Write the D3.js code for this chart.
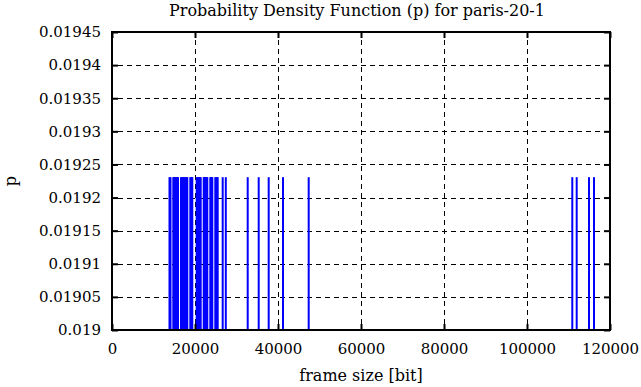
<!DOCTYPE html>
<html>
<head>
<meta charset="utf-8">
<script src="https://cdn.jsdelivr.net/npm/d3@7"></script>
<style>
  html, body { margin: 0; padding: 0; background: #fff; }
  svg { display: block; }
  text { font-family: "DejaVu Serif", "Liberation Serif", serif; fill: #000; }
</style>
</head>
<body>
<svg id="chart" width="641" height="387"></svg>
<script>
// ---- data ----
const title = "Probability Density Function (p) for paris-20-1";
const xLabel = "frame size [bit]";
const yLabel = "p";
const frameSizes = [
  13855, 14096,
  14771, 14964, 15156, 15349, 15518, 15711, 15903,
  16626, 16843, 17060, 17277, 17494, 17711, 17927, 18144,
  18867, 19036, 19180, 19349,
  20409, 20602, 20795, 20987, 21180, 21373,
  22096, 22265, 22433, 22626, 22795, 22963,
  23686, 23855, 24000, 24168,
  24891, 25084, 25277, 25470,
  26674, 27421,
  32699, 35349, 37758, 41204, 47397,
  110914, 111974, 114938, 116143
];
const probabilities = frameSizes.map(() => 1 / 52);
const xTicks = [0, 20000, 40000, 60000, 80000, 100000, 120000];
const xTickLabels = ["0", "20000", "40000", "60000", "80000", "100000", "120000"];
const yTicks = [0.019, 0.01905, 0.0191, 0.01915, 0.0192, 0.01925, 0.0193, 0.01935, 0.0194, 0.01945];
const yTickLabels = ["0.019", "0.01905", "0.0191", "0.01915", "0.0192", "0.01925", "0.0193", "0.01935", "0.0194", "0.01945"];

// ---- layout ----
const L = 112, R = 610, T = 32, B = 330;
const svg = d3.select("#chart");
const x = d3.scaleLinear().domain([0, 120000]).range([L, R]);
const y = d3.scaleLinear().domain([0.019, 0.01945]).range([B, T]);

// grid
const grid = svg.append("g").attr("stroke", "#000").attr("stroke-width", 1)
  .attr("stroke-dasharray", "5,4").attr("shape-rendering", "crispEdges");
grid.selectAll("line.gx").data(xTicks.slice(1, -1)).enter().append("line")
  .attr("x1", d => Math.round(x(d)) + 0.5).attr("x2", d => Math.round(x(d)) + 0.5)
  .attr("y1", B - 6).attr("y2", T + 6);
grid.selectAll("line.gy").data(yTicks.slice(1, -1)).enter().append("line")
  .attr("y1", d => Math.round(y(d)) + 0.5).attr("y2", d => Math.round(y(d)) + 0.5)
  .attr("x1", L + 6).attr("x2", R - 6);

// impulses
svg.append("g").selectAll("line").data(frameSizes).enter().append("line")
  .attr("x1", d => x(d)).attr("x2", d => x(d))
  .attr("y1", y(0.019)).attr("y2", (d, i) => y(probabilities[i]))
  .attr("stroke", "#0000ff").attr("stroke-width", 2);

// axes (ticks inward, mirrored)
function styleAxis(g, showLabels) {
  g.select(".domain").remove();
  g.selectAll(".tick line").attr("stroke", "#000").attr("stroke-width", 2);
  if (!showLabels) g.selectAll(".tick text").remove();
  else g.selectAll(".tick text").attr("font-size", 15).attr("fill", "#000")
    .attr("font-family", "DejaVu Serif, Liberation Serif, serif");
}
const xb = svg.append("g").attr("transform", `translate(0,${B})`)
  .call(d3.axisBottom(x).tickValues(xTicks).tickSizeInner(-6).tickSizeOuter(0).tickPadding(13)
    .tickFormat((d, i) => xTickLabels[i]));
styleAxis(xb, true);
const xt = svg.append("g").attr("transform", `translate(0,${T})`)
  .call(d3.axisTop(x).tickValues(xTicks).tickSizeInner(-6).tickSizeOuter(0));
styleAxis(xt, false);
const yl = svg.append("g").attr("transform", `translate(${L},0)`)
  .call(d3.axisLeft(y).tickValues(yTicks).tickSizeInner(-6).tickSizeOuter(0).tickPadding(11)
    .tickFormat((d, i) => yTickLabels[i]));
styleAxis(yl, true);
const yr = svg.append("g").attr("transform", `translate(${R},0)`)
  .call(d3.axisRight(y).tickValues(yTicks).tickSizeInner(-6).tickSizeOuter(0));
styleAxis(yr, false);

// border
svg.append("rect").attr("x", L).attr("y", T).attr("width", R - L).attr("height", B - T)
  .attr("fill", "none").attr("stroke", "#000").attr("stroke-width", 2);

// labels
svg.append("text").attr("x", 357).attr("y", 16).attr("text-anchor", "middle")
  .attr("font-size", 16).text(title);
svg.append("text").attr("x", 361).attr("y", 381).attr("text-anchor", "middle")
  .attr("font-size", 16).text(xLabel);
svg.append("text").attr("transform", "translate(16,181) rotate(-90)").attr("text-anchor", "middle")
  .attr("font-size", 16).text(yLabel);
</script>
</body>
</html>
